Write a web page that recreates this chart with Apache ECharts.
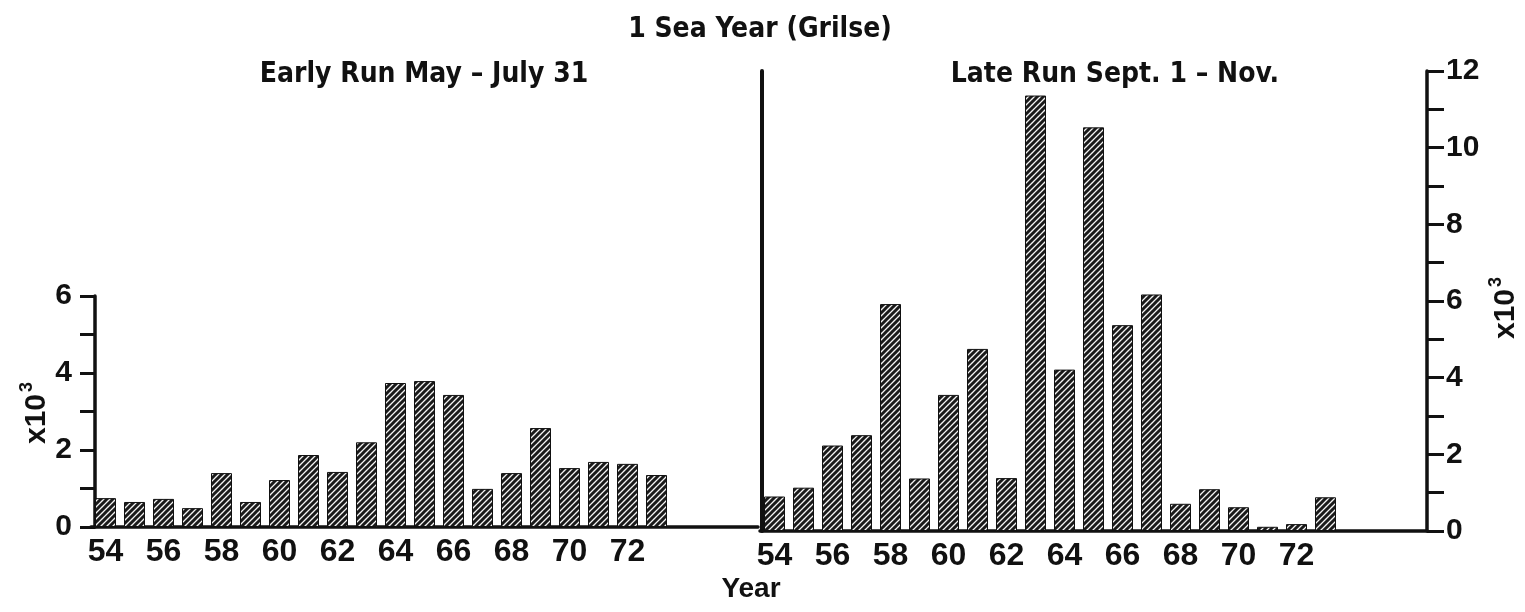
<!DOCTYPE html>
<html>
<head>
<meta charset="utf-8">
<script src="https://cdn.jsdelivr.net/npm/echarts@6/dist/echarts.min.js"></script>
<style>
html,body{margin:0;padding:0;background:#fff;}
#chart{width:1525px;height:612px;}
</style>
</head>
<body>
<div id="chart"></div>
<script>
// ---- data ----
var years = ['54','55','56','57','58','59','60','61','62','63','64','65','66','67','68','69','70','71','72','73','74','75','76'];
var earlyRun = [0.75,0.65,0.73,0.49,1.40,0.65,1.22,1.87,1.43,2.20,3.74,3.79,3.43,0.99,1.40,2.57,1.53,1.69,1.64,1.35];
var lateRun  = [0.90,1.13,2.23,2.50,5.92,1.37,3.55,4.75,1.38,11.36,4.21,10.53,5.37,6.17,0.71,1.09,0.62,0.11,0.18,0.88];
var leftTicks = [0,2,4,6];
var rightTicks = [0,2,4,6,8,10,12];

var FONT = '"Liberation Sans", Arial, sans-serif';
var NARROW = '"Liberation Sans Narrow", "DejaVu Sans Condensed", "Liberation Sans", sans-serif';
var INK = '#111';

function makePattern(){
  var c = document.createElement('canvas'); c.width = 6; c.height = 6;
  var g = c.getContext('2d');
  g.fillStyle = '#f4f4f4'; g.fillRect(0,0,6,6);
  g.strokeStyle = '#1a1a1a'; g.lineWidth = 3;
  g.beginPath();
  g.moveTo(-1,7); g.lineTo(7,-1);
  g.moveTo(-1,1); g.lineTo(1,-1);
  g.moveTo(5,7); g.lineTo(7,5);
  g.stroke();
  return c;
}
var hatch = {image: makePattern(), repeat: 'repeat'};

function xLabelShow(idx, val){ return idx % 2 === 0 && +val <= 72; }

var chart = echarts.init(document.getElementById('chart'));
chart.setOption({
  animation: false,
  backgroundColor: '#fff',
  grid: [
    {left: 91, top: 296, width: 667, height: 231},
    {left: 760, top: 71, width: 667, height: 460}
  ],
  xAxis: [
    {type: 'category', gridIndex: 0, data: years,
     axisLine: {lineStyle: {color: INK, width: 3.5}},
     axisTick: {show: false},
     axisLabel: {interval: xLabelShow, color: INK, fontFamily: FONT, fontWeight: 'bold', fontSize: 32, margin: 9}},
    {type: 'category', gridIndex: 1, data: years,
     axisLine: {lineStyle: {color: INK, width: 3.5}},
     axisTick: {show: false},
     axisLabel: {interval: xLabelShow, color: INK, fontFamily: FONT, fontWeight: 'bold', fontSize: 32, margin: 9}}
  ],
  yAxis: [
    {type: 'value', gridIndex: 0, min: 0, max: 6, interval: 1, offset: -4,
     splitLine: {show: false},
     axisLine: {show: true, lineStyle: {color: INK, width: 3.5}},
     axisTick: {show: true, length: 15, lineStyle: {color: INK, width: 3}},
     axisLabel: {color: INK, fontFamily: FONT, fontWeight: 'bold', fontSize: 30, margin: 23,
       formatter: function(v){ return leftTicks.indexOf(v) >= 0 ? String(v) : ''; }}},
    {type: 'value', gridIndex: 1, position: 'right', min: 0, max: 12, interval: 1,
     splitLine: {show: false},
     axisLine: {show: true, lineStyle: {color: INK, width: 3.5}},
     axisTick: {show: true, length: 17, lineStyle: {color: INK, width: 3}},
     axisLabel: {color: INK, fontFamily: FONT, fontWeight: 'bold', fontSize: 30, margin: 19,
       formatter: function(v){ return rightTicks.indexOf(v) >= 0 ? String(v) : ''; }}},
    {type: 'value', gridIndex: 1, position: 'left', min: 0, max: 12, interval: 1, offset: -2,
     splitLine: {show: false},
     axisLine: {show: true, lineStyle: {color: INK, width: 4}},
     axisTick: {show: false}, axisLabel: {show: false}}
  ],
  series: [
    {type: 'bar', xAxisIndex: 0, yAxisIndex: 0, data: earlyRun, barWidth: 21,
     itemStyle: {color: hatch, borderColor: INK, borderWidth: 1}},
    {type: 'bar', xAxisIndex: 1, yAxisIndex: 1, data: lateRun, barWidth: 21,
     itemStyle: {color: hatch, borderColor: INK, borderWidth: 1}}
  ],
  graphic: [
    {type: 'text', x: 760, y: 30, style: {text: '1 Sea Year (Grilse)', font: 'bold 28px ' + NARROW, fill: INK, textAlign: 'center', textVerticalAlign: 'middle'}},
    {type: 'text', x: 424, y: 75, style: {text: 'Early Run May – July 31', font: 'bold 28px ' + NARROW, fill: INK, textAlign: 'center', textVerticalAlign: 'middle'}},
    {type: 'text', x: 1115, y: 75, style: {text: 'Late Run Sept. 1 – Nov.', font: 'bold 28px ' + NARROW, fill: INK, textAlign: 'center', textVerticalAlign: 'middle'}},
    {type: 'text', x: 751, y: 589, style: {text: 'Year', font: 'bold 28px ' + FONT, fill: INK, textAlign: 'center', textVerticalAlign: 'middle'}},
    {type: 'group', x: 37, y: 413, rotation: Math.PI / 2, children: [
      {type: 'text', x: -6, y: 0, style: {text: 'x10', font: 'bold 30px ' + FONT, fill: INK, textAlign: 'center', textVerticalAlign: 'middle'}},
      {type: 'text', x: 26, y: -10, style: {text: '3', font: 'bold 18px ' + FONT, fill: INK, textAlign: 'center', textVerticalAlign: 'middle'}}
    ]},
    {type: 'group', x: 1506, y: 308, rotation: Math.PI / 2, children: [
      {type: 'text', x: -6, y: 0, style: {text: 'x10', font: 'bold 30px ' + FONT, fill: INK, textAlign: 'center', textVerticalAlign: 'middle'}},
      {type: 'text', x: 26, y: -10, style: {text: '3', font: 'bold 18px ' + FONT, fill: INK, textAlign: 'center', textVerticalAlign: 'middle'}}
    ]}
  ]
});
</script>
</body>
</html>
